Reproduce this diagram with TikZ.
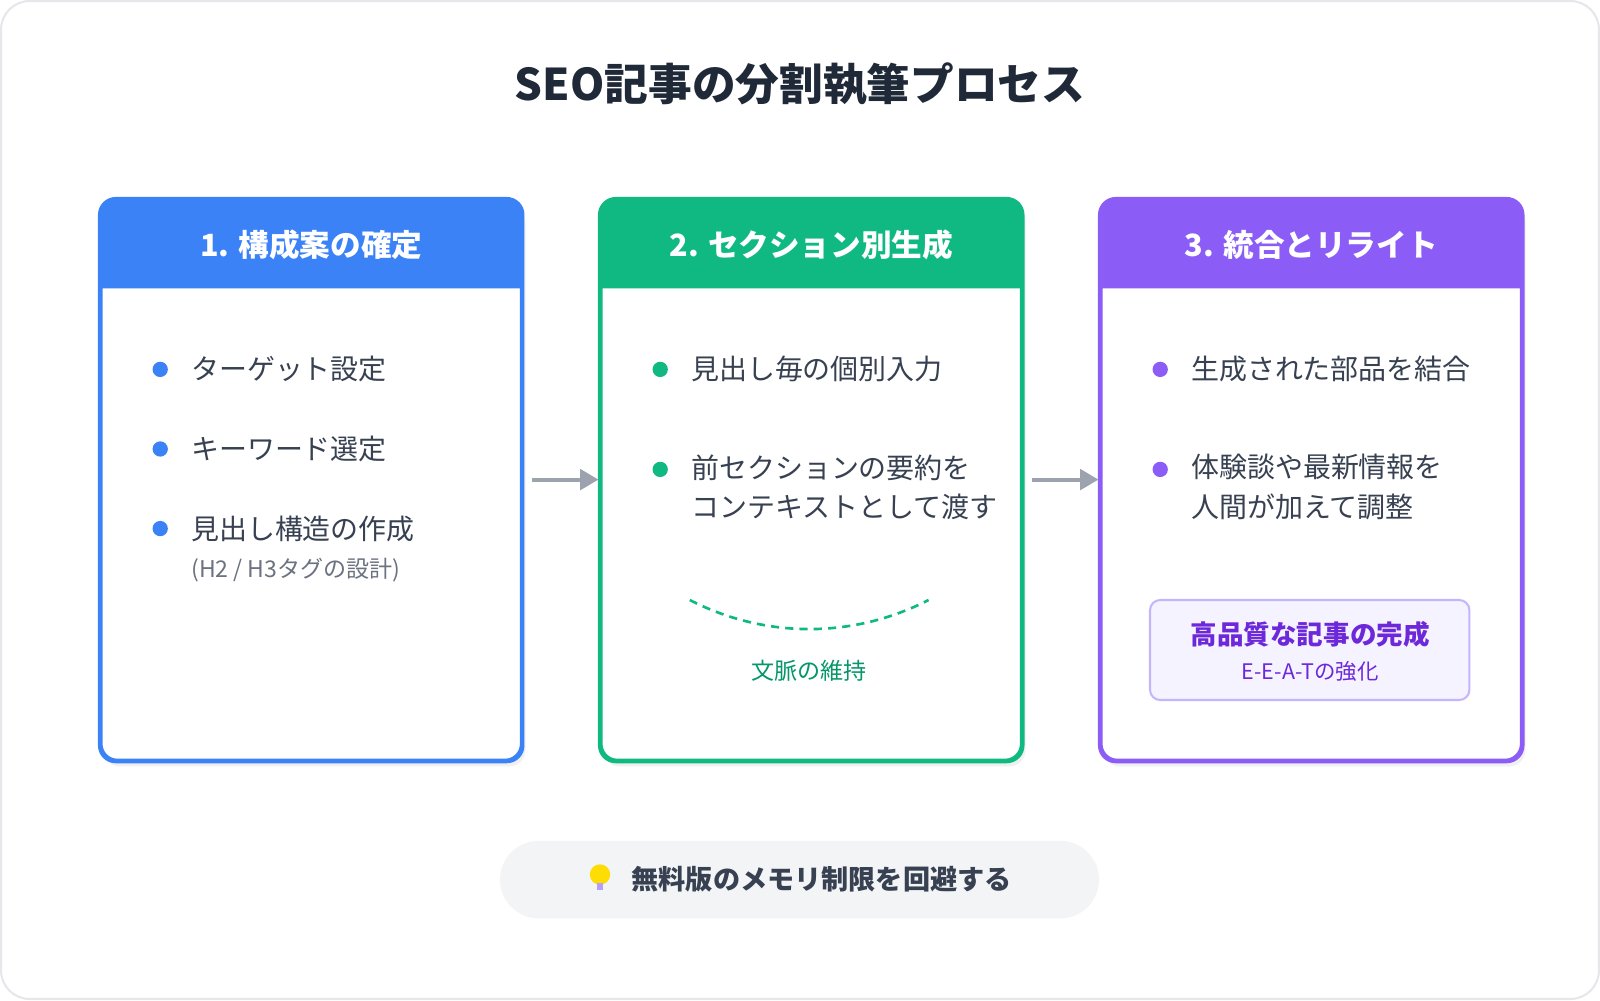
\documentclass[tikz,border=0pt]{standalone}
\usepackage{fontspec}
\setmainfont{Noto Sans CJK JP}
\usetikzlibrary{arrows.meta,positioning}
\definecolor{Blue}{HTML}{3B82F6}
\definecolor{Green}{HTML}{10B981}
\definecolor{DarkGreen}{HTML}{059669}
\definecolor{Purple}{HTML}{8B5CF6}
\definecolor{DarkPurple}{HTML}{6D28D9}
\definecolor{Ink}{HTML}{1F2937}
\definecolor{Body}{HTML}{374151}
\definecolor{Muted}{HTML}{6B7280}
\definecolor{Arrow}{HTML}{9CA3AF}
\definecolor{Frame}{HTML}{E5E7EB}
\definecolor{Pill}{HTML}{F3F4F6}
\definecolor{Lilac}{HTML}{F5F3FF}
\definecolor{LilacLine}{HTML}{C4B5FD}
\tikzset{
  card/.style={draw=#1, line width=1.5pt, fill=white, rounded corners=8pt,
    minimum width=206pt, minimum height=274.5pt, inner sep=0pt},
  head/.style={text=white, font=\fontsize{15}{18}\selectfont\bfseries},
  item/.style={anchor=west, text=Body, font=\fontsize{13.7}{19.5}\selectfont, align=left, inner sep=0pt},
  dot/.style={circle, fill=#1, minimum size=7.5pt, inner sep=0pt},
  flow/.style={draw=Arrow, line width=2pt, -{Triangle[length=9pt,width=10pt]}},
}
\begin{document}
\begin{tikzpicture}[x=0.5pt,y=-0.5pt]
\useasboundingbox (0,0) rectangle (1568,980);
\draw[Frame, line width=1pt, fill=white, rounded corners=14pt] (1,1) rectangle (1567,979);

% Title
\node[text=Ink, font=\fontsize{21.4}{25}\selectfont\bfseries] (title) at (784,82) {SEO記事の分割執筆プロセス};

% Cards
\foreach \cx/\col in {305/Blue, 795/Green, 1285/Purple}
  \fill[black!6, rounded corners=8pt] (\cx-204,202) rectangle (\cx+210,751);
\node[card=Blue] (c1) at (305,470.5) {};
\node[card=Green] (c2) at (795,470.5) {};
\node[card=Purple] (c3) at (1285,470.5) {};
\foreach \n/\col in {c1/Blue, c2/Green, c3/Purple}{
  \fill[\col] ([yshift=-44pt]\n.north west) [rounded corners=8pt] -- (\n.north west)
    -- (\n.north east) [sharp corners] -- ([yshift=-44pt]\n.north east) -- cycle;
  \draw[\col, line width=1.5pt, rounded corners=8pt] (\n.south west) rectangle (\n.north east);
}
\node[head] (h1) at (305,240) {1. 構成案の確定};
\node[head] (h2) at (795,240) {2. セクション別生成};
\node[head] (h3) at (1285,240) {3. 統合とリライト};

% Step 1
\node[dot=Blue] (d11) at (157,362) {};
\node[item, right=11pt of d11] (t11) {ターゲット設定};
\node[dot=Blue] (d12) at (157,440) {};
\node[item, right=11pt of d12] (t12) {キーワード選定};
\node[dot=Blue] (d13) at (157,518) {};
\node[item, right=11pt of d13] (t13) {見出し構造の作成};
\node[item, text=Muted, font=\fontsize{11.3}{13}\selectfont] (s13) at (187,559) {(H2 / H3タグの設計)};

% Step 2
\node[dot=Green] (d21) at (647,362) {};
\node[item, right=11pt of d21] (t21) {見出し毎の個別入力};
\node[dot=Green] (d22) at (647,460) {};
\node[item, anchor=north west] (t22) at (677,445) {前セクションの要約を\\コンテキストとして渡す};
\draw[Green, line width=1.3pt, dash pattern=on 4pt off 3pt] (676,588) .. controls (750,626) and (836,626) .. (910,588);
\node[text=DarkGreen, font=\fontsize{11.3}{13}\selectfont] (ctx) at (793,657) {文脈の維持};

% Step 3
\node[dot=Purple] (d31) at (1137,362) {};
\node[item, right=11pt of d31] (t31) {生成された部品を結合};
\node[dot=Purple] (d32) at (1137,460) {};
\node[item, anchor=north west] (t32) at (1167,445) {体験談や最新情報を\\人間が加えて調整};
\draw[LilacLine, fill=Lilac, line width=1pt, rounded corners=5pt] (1127,588) rectangle (1440,686);
\node[text=DarkPurple, font=\fontsize{13}{15}\selectfont\bfseries] (res) at (1284,622) {高品質な記事の完成};
\node[text=DarkPurple, font=\fontsize{10.5}{12}\selectfont] (eeat) at (1284,658) {E-E-A-Tの強化};

% Flow
\draw[flow] ([xshift=4.5pt]c1.east |- 0,470) -- ([xshift=-0.5pt]c2.west |- 0,470);
\draw[flow] ([xshift=4.5pt]c2.east |- 0,470) -- ([xshift=-0.5pt]c3.west |- 0,470);

% Note
\fill[Pill, rounded corners=19pt] (490,824) rectangle (1077,900);
\fill[yellow!80!orange] (588,857) circle (5pt);
\fill[Purple!60] (585,865) rectangle (591,872);
\node[text=Body, font=\fontsize{13.3}{15}\selectfont\bfseries, anchor=west] (note) at (612,862) {無料版のメモリ制限を回避する};
\end{tikzpicture}
\end{document}
